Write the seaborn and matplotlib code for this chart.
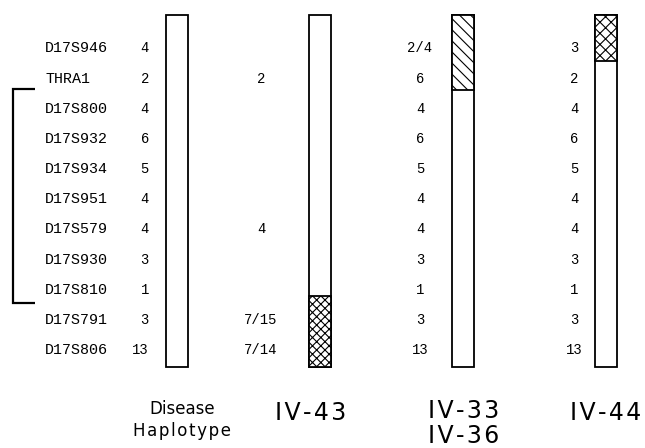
import matplotlib
matplotlib.use("Agg")
import matplotlib.pyplot as plt
import seaborn as sns
import pandas as pd

# ---------------- data ----------------
markers = ["D17S946", "THRA1", "D17S800", "D17S932", "D17S934", "D17S951",
           "D17S579", "D17S930", "D17S810", "D17S791", "D17S806"]
disease_alleles = ["4", "2", "4", "6", "5", "4", "4", "3", "1", "3", "13"]
iv43_alleles = ["", "2", "", "", "", "", "4", "", "", "7/15", "7/14"]
iv33_alleles = ["2/4", "6", "4", "6", "5", "4", "4", "3", "1", "3", "13"]
iv44_alleles = ["3", "2", "4", "6", "5", "4", "4", "3", "1", "3", "13"]
individuals = ["Disease Haplotype", "IV-43", "IV-33 / IV-36", "IV-44"]
label_lines = [["Disease", "H\u200aa\u200ap\u200al\u200ao\u200at\u200ay\u200ap\u200ae"],
               ["I\u200aV\u200a-\u200a4\u200a3"],
               ["I\u200aV\u200a-\u200a3\u200a3", "I\u200aV\u200a-\u200a3\u200a6"],
               ["I\u200aV\u200a-\u200a4\u200a4"]]
# chromosome extent in marker-row units (row 0 = first marker)
chrom_top = -1.06
chrom_bottom = 10.63
# non-disease (recombinant) segments, in marker-row units
seg_start = [None, 8.27, -1.06, -1.06]
seg_end = [None, 10.63, 1.43, 0.46]
seg_hatch = [None, "xxxx", "\\\\\\", "xxx"]
bracket_first, bracket_last = "D17S800", "D17S810"

# ---------------- style / layout ----------------
sns.set_theme(style="white")
plt.rcParams["hatch.linewidth"] = 0.8
MONO = ["Liberation Mono", "DejaVu Sans Mono"]
SANS = ["DejaVu Sans"]

fig = plt.figure(figsize=(6.45, 4.48), dpi=100)
ax = fig.add_axes([0, 0, 1, 1])

OFF = -chrom_top  # depth coordinate = row + OFF (0 at chromosome top)
BAR_W = 0.154

df = pd.DataFrame({"individual": individuals,
                   "length": [chrom_bottom - chrom_top] * len(individuals)})
sns.barplot(data=df, x="individual", y="length", order=individuals,
            color="white", edgecolor="black", linewidth=1.3, width=BAR_W,
            errorbar=None, ax=ax, saturation=1)

for i in range(len(individuals)):
    if seg_start[i] is None:
        continue
    ax.bar(i, seg_end[i] - seg_start[i], bottom=seg_start[i] + OFF, width=BAR_W,
           facecolor="white", edgecolor="black", hatch=seg_hatch[i], linewidth=1.3,
           zorder=3)

# marker names and alleles
name_x = -0.923
allele_x = [(-0.196, "right"), (0.587, "center"), (1.699, "center"), (2.776, "center")]
allele_sets = [disease_alleles, iv43_alleles, iv33_alleles, iv44_alleles]
for r, m in enumerate(markers):
    y = r + OFF
    ax.text(name_x, y, m, ha="left", va="center_baseline", family=MONO, fontsize=10.8,
            color="black")
    for (x, ha), alle in zip(allele_x, allele_sets):
        if alle[r]:
            ax.text(x, y, alle[r], ha=ha, va="center_baseline", family=MONO,
                    fontsize=10, color="black")

# bracket
b0 = markers.index(bracket_first) - 0.6 + OFF
b1 = markers.index(bracket_last) + 0.5 + OFF
bx0, bx1 = -1.147, -0.993
ax.plot([bx1, bx0, bx0, bx1], [b0, b0, b1, b1], color="black", lw=1.6,
        solid_joinstyle="miter", solid_capstyle="butt")

# bottom labels
label_x = [0.035, 0.937, 2.003, 3.0]
label_y = [[13.23, 13.96], [13.43], [13.37, 14.2], [13.43]]
label_size = [12, 17, 17, 17]
for i, lines in enumerate(label_lines):
    for txt, y in zip(lines, label_y[i]):
        ax.text(label_x[i], y, txt, ha="center", va="baseline", family=SANS,
                fontsize=label_size[i], color="black")

ax.set_xlim(-177 / 143, 468 / 143)
ax.set_ylim(433 / 30.15, -15 / 30.15)
ax.axis("off")
fig.savefig("out.png", dpi=100, facecolor="white")
